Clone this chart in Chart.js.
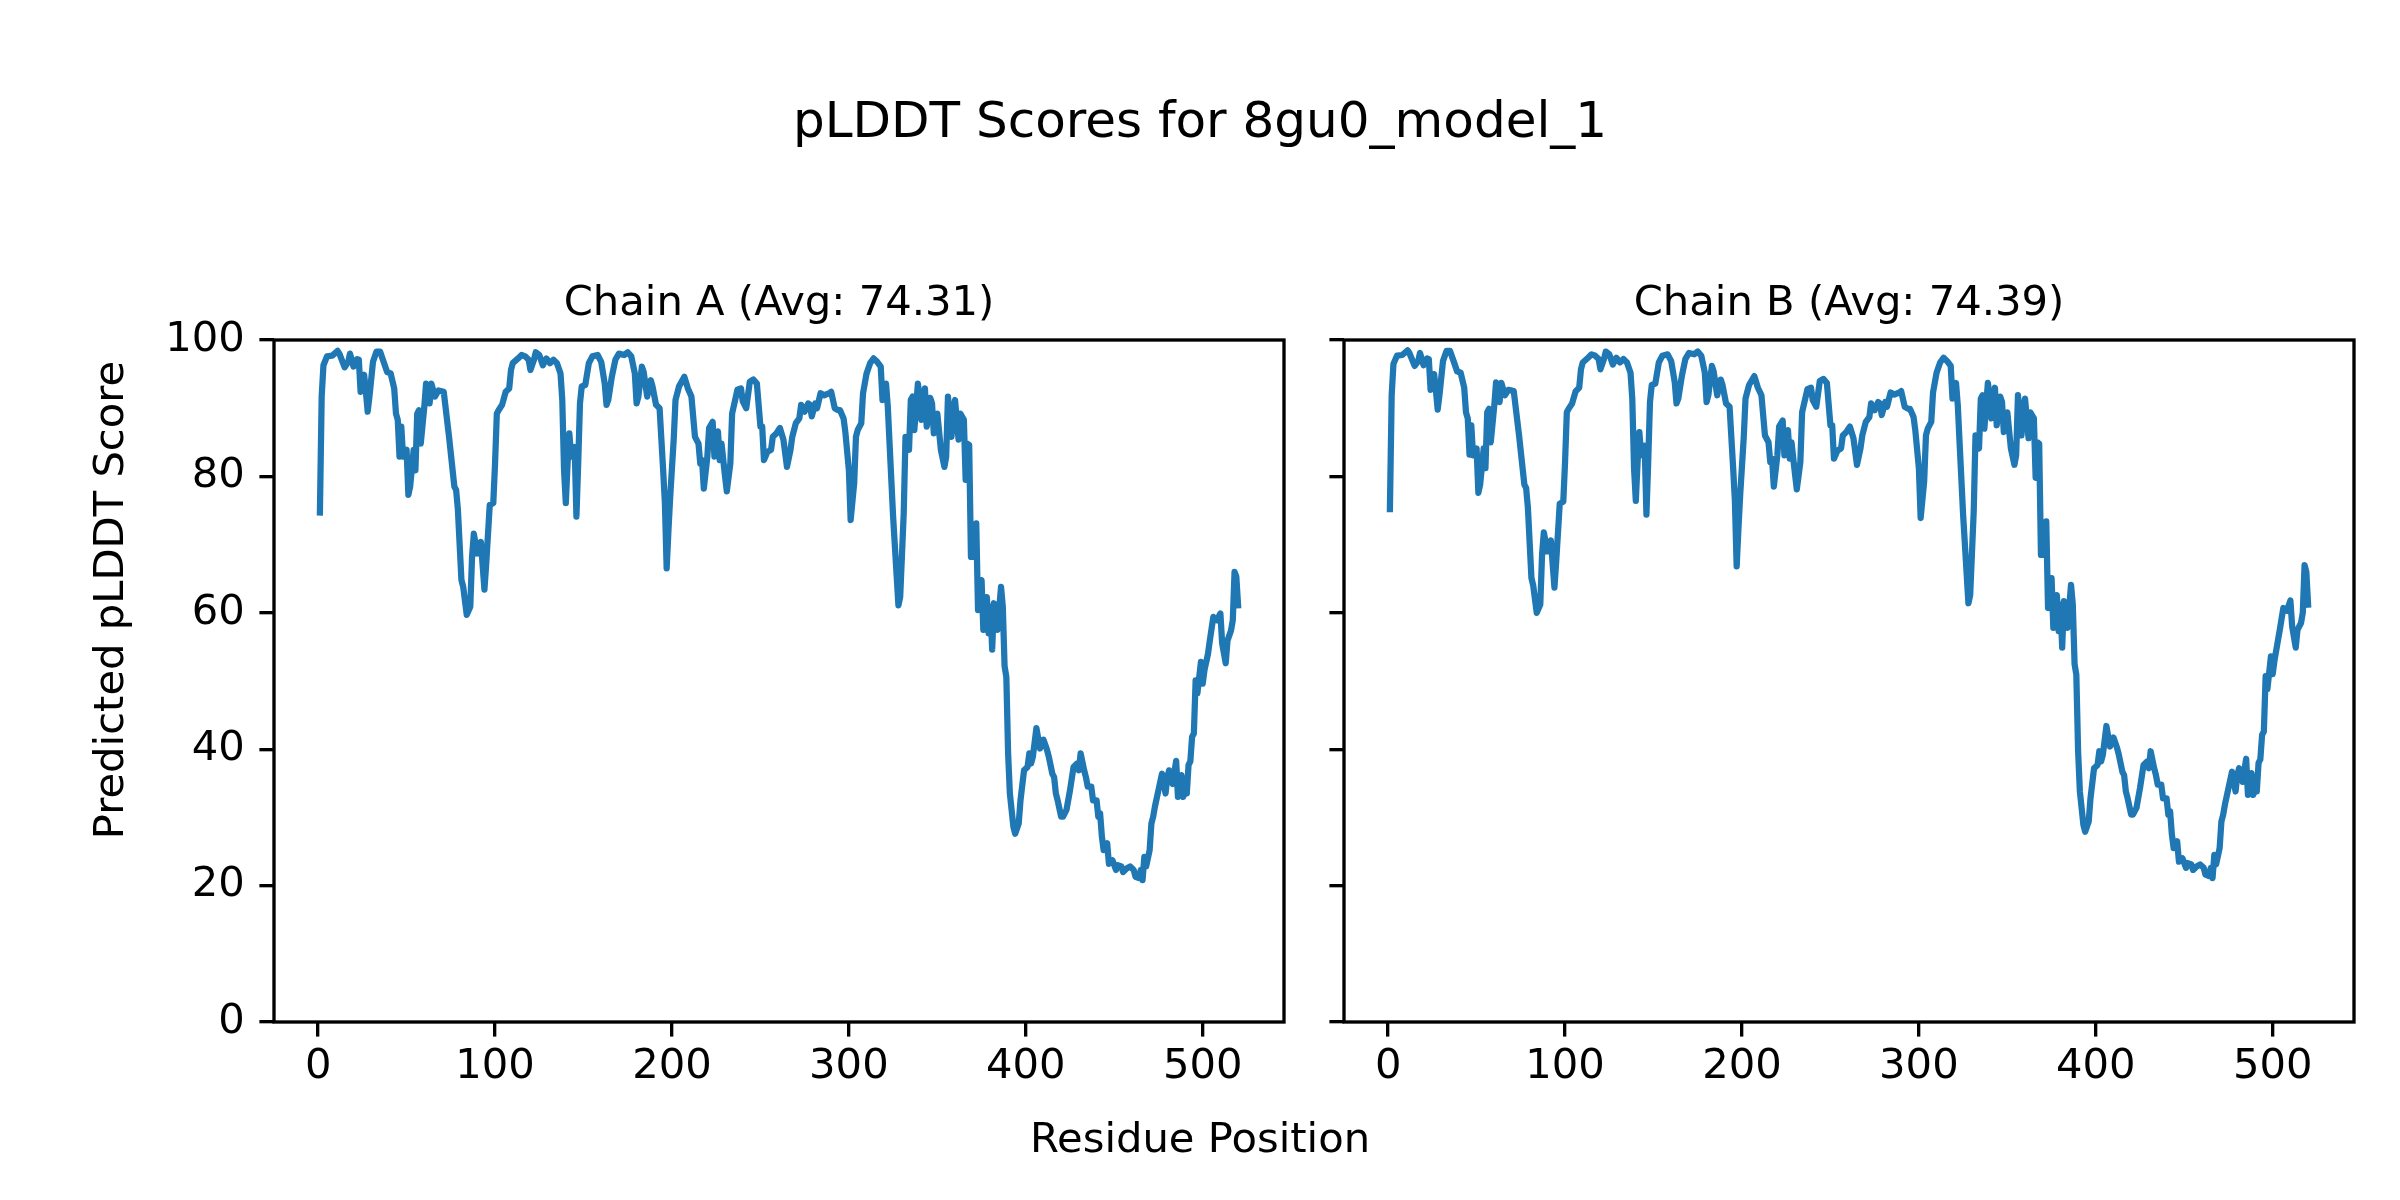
<!DOCTYPE html>
<html>
<head>
<meta charset="utf-8">
<script src="https://cdn.jsdelivr.net/npm/chart.js@4/dist/chart.umd.min.js"></script>
<style>
  html, body { margin: 0; padding: 0; background: #ffffff; }
  #wrap { position: relative; width: 2400px; height: 1200px; background: #ffffff; }
  canvas { position: absolute; left: 0; top: 0; }
</style>
</head>
<body>
<div id="wrap">
  <canvas id="chartA" width="2400" height="1200"></canvas>
  <canvas id="chartB" width="2400" height="1200"></canvas>
</div>
<script>
// ---------------- data ----------------
const figureTitle = "pLDDT Scores for 8gu0_model_1";
const xAxisLabel = "Residue Position";
const yAxisLabel = "Predicted pLDDT Score";
const chainTitles = ["Chain A (Avg: 74.31)", "Chain B (Avg: 74.39)"];
const xTickValues = [0, 100, 200, 300, 400, 500];
const yTickValues = [0, 20, 40, 60, 80, 100];

const residuesA = [1,2,3,5,8,11,12,15,17,18,20,22,23,24,26,27,28,29,31,33,35,37,39,41,43,44,45,46,47,48,50,51,52,54,55,56,57,58,60,61,63,64,66,68,71,74,77,78,79,81,82,84,86,87,88,90,92,94,95,97,99,100,101,102,104,106,108,109,110,113,115,117,119,120,122,123,125,127,129,131,133,135,137,138,139,140,141,142,143,145,146,147,148,149,151,153,155,158,160,162,163,164,166,168,170,173,175,177,179,180,181,183,184,186,188,189,191,193,195,196,197,198,199,201,202,204,207,209,211,213,215,216,217,218,220,221,223,224,226,227,228,230,231,233,234,237,239,240,242,244,246,248,250,251,252,254,256,257,259,261,263,265,267,268,270,272,273,275,277,278,279,281,282,284,286,289,290,292,294,295,297,298,300,301,303,304,305,307,308,310,312,314,316,318,319,321,322,323,325,328,329,331,332,334,335,336,337,339,340,341,343,344,346,347,348,350,352,354,355,356,358,359,360,362,363,365,366,367,368,369,371,372,373,375,376,378,379,380,381,382,384,386,387,388,389,390,391,393,394,396,397,399,401,402,403,404,406,408,410,412,413,415,416,417,418,420,421,423,425,427,429,430,431,433,434,435,437,438,440,441,442,443,444,446,447,449,451,452,454,455,457,459,461,462,464,465,466,467,468,470,471,472,473,475,477,479,480,481,483,485,486,488,489,490,491,492,493,494,495,496,497,499,500,501,503,504,506,508,510,511,513,514,516,517,518,519,520];
const scoresA = [74.7,91.7,96.3,97.6,97.7,98.4,98.0,96.0,96.8,98.0,96.1,97.2,97.1,92.4,94.9,92.4,89.5,91.7,96.8,98.3,98.3,96.8,95.3,95.1,92.9,89.2,88.3,82.9,87.3,82.9,83.9,77.3,78.5,83.9,80.9,89.2,89.7,84.8,90.2,93.6,90.7,93.6,91.7,92.6,92.4,85.8,78.5,78.0,75.1,64.8,63.8,59.7,60.9,68.2,71.6,68.7,70.4,63.4,67.2,75.8,76.1,81.9,89.2,89.7,90.5,92.4,92.9,95.6,96.6,97.3,97.8,97.6,97.1,95.6,97.1,98.2,97.8,96.3,97.3,96.6,97.1,96.6,95.1,91.2,80.9,76.1,81.9,86.3,82.9,84.3,74.1,81.9,90.7,93.2,93.4,96.6,97.6,97.8,96.8,93.6,90.5,91.2,94.6,97.1,98.0,97.8,98.2,97.6,95.1,90.7,91.7,96.1,95.3,91.7,94.1,93.2,90.5,90.0,81.0,76.1,66.5,72.0,77.0,85.5,91.2,93.2,94.6,92.9,91.7,85.8,84.8,81.9,82.4,78.2,82.9,87.1,88.0,82.9,86.6,82.4,84.8,80.0,77.8,81.9,89.2,92.7,92.9,91.0,90.0,93.9,94.2,93.6,87.3,87.3,82.4,83.6,83.9,85.8,86.3,87.1,85.4,81.4,83.9,85.8,87.8,88.5,90.5,89.5,90.7,90.5,88.8,90.7,90.0,92.2,91.9,92.2,92.4,90.0,89.7,89.7,88.5,86.5,80.9,73.6,79.0,85.8,86.8,87.8,92.2,95.1,96.6,97.3,96.8,96.1,91.2,93.6,90.2,84.8,74.1,61.1,62.3,74.6,85.8,83.9,91.2,91.7,86.8,93.6,91.7,88.3,92.9,87.3,91.5,90.7,86.3,89.2,83.9,81.4,82.9,91.7,85.8,89.7,91.2,85.4,89.2,88.3,79.5,84.8,84.6,68.2,68.2,73.1,60.4,64.8,57.5,62.3,57.0,60.9,54.6,61.4,57.5,63.8,60.9,52.2,50.6,39.4,33.5,28.6,27.6,29.1,32.5,36.9,37.4,39.4,37.9,38.9,43.1,40.1,41.4,39.9,38.9,36.4,35.9,33.5,32.5,30.1,30.1,31.1,34.0,37.4,37.9,36.9,39.4,36.9,35.9,34.5,34.5,32.5,32.5,30.1,30.6,27.2,25.2,26.2,23.2,23.7,22.3,23.0,22.8,22.0,22.5,22.8,22.3,21.3,21.1,22.3,20.8,24.2,22.8,25.2,29.1,30.1,31.6,34.0,36.4,33.5,35.9,36.9,34.9,38.3,33.0,36.2,33.0,34.9,33.5,37.7,38.2,41.8,42.3,50.1,48.2,52.8,49.6,51.6,54.0,55.9,59.4,58.9,59.9,55.5,52.6,55.9,57.4,58.9,66.0,65.3,61.1];

const residuesB = residuesA.slice();
const scoresB = [75.2,91.9,96.5,97.7,97.8,98.5,98.1,96.2,96.9,98.1,96.3,97.3,97.2,92.7,95.0,92.6,89.8,91.9,96.9,98.4,98.4,96.9,95.4,95.2,93.0,89.4,88.5,83.2,87.5,83.1,84.1,77.6,78.8,84.1,81.2,89.4,89.9,85.0,90.4,93.8,90.9,93.7,91.9,92.7,92.5,86.0,78.8,78.3,75.4,65.1,64.0,60.0,61.2,68.5,71.8,69.0,70.6,63.7,67.5,76.0,76.3,82.1,89.4,89.9,90.7,92.5,93.0,95.7,96.7,97.4,97.9,97.7,97.2,95.7,97.2,98.3,97.9,96.4,97.4,96.7,97.2,96.7,95.2,91.4,81.2,76.4,82.1,86.5,83.1,84.5,74.4,82.1,90.9,93.4,93.6,96.7,97.7,97.9,96.9,93.8,90.7,91.4,94.7,97.2,98.1,97.9,98.3,97.7,95.2,90.9,91.9,96.2,95.4,91.9,94.2,93.4,90.7,90.2,81.3,76.4,66.8,72.3,77.3,85.7,91.4,93.4,94.7,93.0,91.9,86.0,85.0,82.1,82.6,78.5,83.1,87.3,88.2,83.1,86.8,82.6,85.0,80.3,78.1,82.1,89.4,92.8,93.0,91.2,90.2,94.0,94.3,93.7,87.5,87.5,82.6,83.8,84.1,86.0,86.5,87.3,85.6,81.7,84.1,86.0,88.0,88.7,90.7,89.7,90.9,90.7,89.0,90.9,90.2,92.3,92.0,92.3,92.5,90.2,89.9,89.9,88.7,86.7,81.2,73.9,79.3,86.0,87.0,88.0,92.3,95.2,96.7,97.4,96.9,96.2,91.4,93.7,90.4,85.0,74.4,61.4,62.6,74.9,86.0,84.1,91.4,91.9,87.0,93.7,91.9,88.5,93.0,87.5,91.7,90.9,86.5,89.4,84.1,81.7,83.1,91.9,86.0,89.9,91.4,85.6,89.4,88.5,79.8,85.0,84.8,68.5,68.5,73.4,60.7,65.1,57.8,62.6,57.3,61.2,54.9,61.7,57.8,64.1,61.2,52.5,50.9,39.7,33.8,28.9,27.9,29.4,32.8,37.2,37.7,39.7,38.2,39.2,43.4,40.4,41.7,40.2,39.2,36.7,36.2,33.8,32.8,30.4,30.4,31.4,34.3,37.7,38.2,37.2,39.7,37.2,36.2,34.8,34.8,32.8,32.8,30.4,30.9,27.5,25.5,26.5,23.5,24.0,22.6,23.3,23.1,22.3,22.8,23.1,22.6,21.6,21.4,22.6,21.1,24.5,23.1,25.5,29.4,30.4,31.9,34.3,36.7,33.8,36.2,37.2,35.2,38.6,33.3,36.5,33.3,35.2,33.8,38.0,38.5,42.1,42.6,50.7,48.8,53.6,51.0,53.0,56.0,57.5,60.7,60.3,61.8,58.0,54.9,57.5,58.5,60.0,67.0,66.0,61.2];

// ---------------- layout / style ----------------
const FONT = "'DejaVu Sans', 'Liberation Sans', sans-serif";
const TICK_PX = 41.7;
const LINE_BLUE = '#1f77b4';
const PLOT_TOP = 340, PLOT_BOTTOM = 1022;
const X_MIN = -24.95, X_MAX = 545.95;

Chart.defaults.font.family = FONT;
Chart.defaults.font.size = TICK_PX;
Chart.defaults.color = '#000000';

function framePlugin(title, extra) {
  return {
    id: 'frame_' + title.replace(/\W/g, ''),
    afterDraw(chart) {
      const ctx = chart.ctx;
      const a = chart.chartArea;
      ctx.save();
      ctx.strokeStyle = '#000000';
      ctx.lineWidth = 3.33;
      ctx.lineJoin = 'miter';
      ctx.strokeRect(a.left, a.top, a.right - a.left, a.bottom - a.top);
      // subplot title (baseline 25px above the frame)
      ctx.fillStyle = '#000000';
      ctx.font = TICK_PX + 'px ' + FONT;
      ctx.textAlign = 'center';
      ctx.textBaseline = 'alphabetic';
      ctx.fillText(title, (a.left + a.right) / 2, a.top - 25);
      if (extra) extra(ctx);
      ctx.restore();
    }
  };
}

function figureTexts(ctx) {
  ctx.fillStyle = '#000000';
  ctx.textAlign = 'center';
  ctx.textBaseline = 'alphabetic';
  ctx.font = '50px ' + FONT;
  ctx.fillText(figureTitle, 1200, 137);
  ctx.font = TICK_PX + 'px ' + FONT;
  ctx.fillText(xAxisLabel, 1200, 1152);
  ctx.save();
  ctx.translate(112, 600);
  ctx.rotate(-Math.PI / 2);
  ctx.textBaseline = 'middle';
  ctx.fillText(yAxisLabel, 0, 0);
  ctx.restore();
}

function makeChart(canvasId, residues, scores, title, yAxisWidth, rightPad, showYLabels, extra) {
  const points = residues.map((r, i) => ({ x: r, y: scores[i] }));
  return new Chart(document.getElementById(canvasId), {
    type: 'line',
    data: {
      datasets: [{
        data: points,
        borderColor: LINE_BLUE,
        backgroundColor: LINE_BLUE,
        borderWidth: 6.25,
        pointRadius: 0,
        tension: 0,
        fill: false,
        borderJoinStyle: 'round',
        borderCapStyle: 'square'
      }]
    },
    options: {
      responsive: false,
      devicePixelRatio: 1,
      animation: false,
      events: [],
      layout: { padding: { top: PLOT_TOP, left: 0, right: rightPad, bottom: 0 } },
      plugins: { legend: { display: false }, tooltip: { enabled: false }, title: { display: false } },
      scales: {
        x: {
          type: 'linear',
          min: X_MIN,
          max: X_MAX,
          afterBuildTicks: (s) => { s.ticks = xTickValues.map(v => ({ value: v })); },
          afterFit: (s) => { s.height = 1200 - PLOT_BOTTOM; },
          ticks: { autoSkip: false, maxRotation: 0, padding: 5.5, color: '#000', font: { size: TICK_PX },
                   callback: (v) => String(v) },
          grid: { drawOnChartArea: false, drawTicks: true, tickLength: 14.6, tickWidth: 3.33, tickColor: '#000', lineWidth: 3.33, color: '#000' },
          border: { display: false }
        },
        y: {
          type: 'linear',
          min: 0,
          max: 100,
          afterBuildTicks: (s) => { s.ticks = yTickValues.map(v => ({ value: v })); },
          afterFit: (s) => { s.width = yAxisWidth; },
          ticks: { padding: 14.6, color: '#000', font: { size: TICK_PX },
                   callback: (v) => showYLabels ? String(v) : '' },
          grid: { drawOnChartArea: false, drawTicks: true, tickLength: 14.6, tickWidth: 3.33, tickColor: '#000', lineWidth: 3.33, color: '#000' },
          border: { display: false }
        }
      }
    },
    plugins: [framePlugin(title, extra)]
  });
}

makeChart('chartA', residuesA, scoresA, chainTitles[0], 274, 2400 - 1284, true, figureTexts);
makeChart('chartB', residuesB, scoresB, chainTitles[1], 1344, 2400 - 2354, false, null);
</script>
</body>
</html>
